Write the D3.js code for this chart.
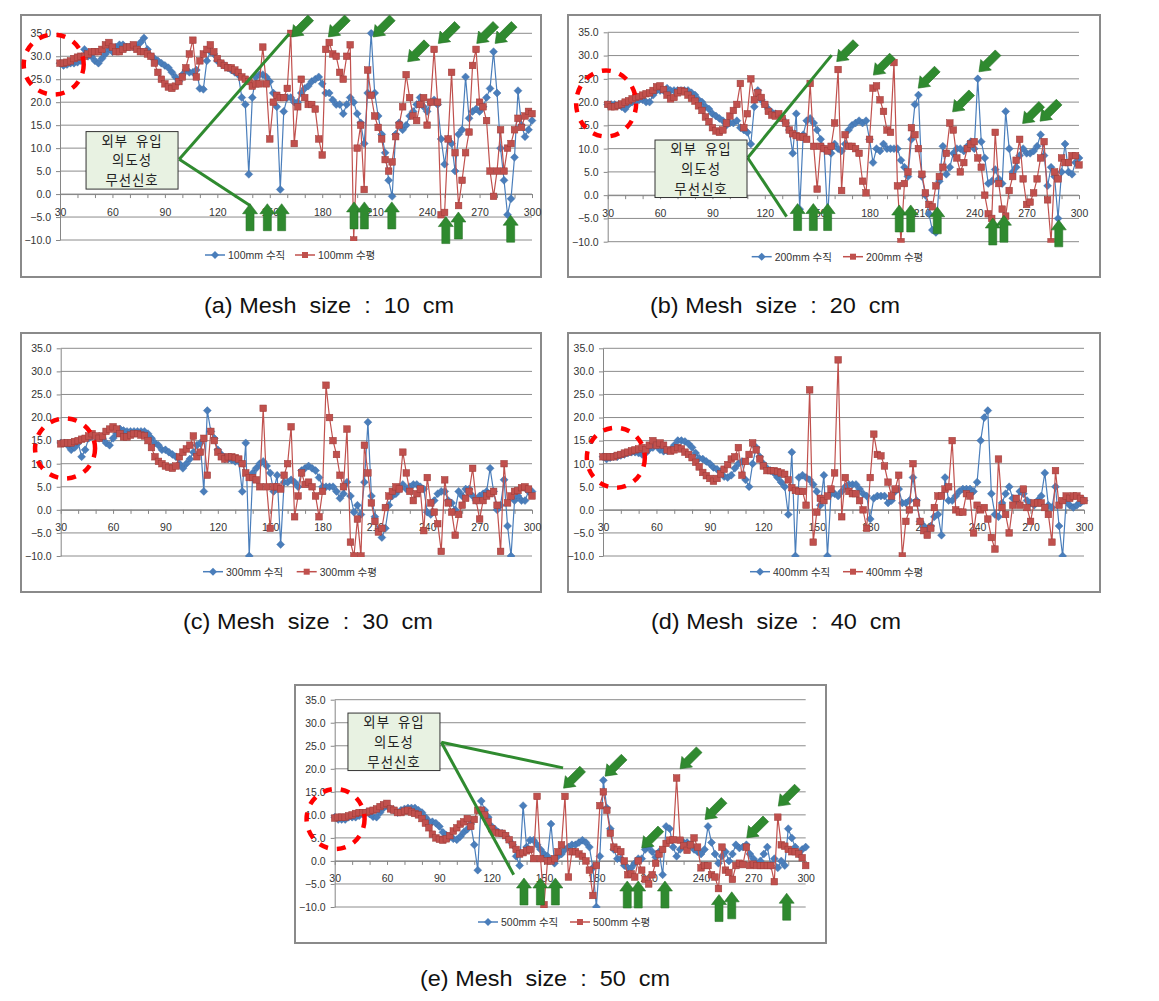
<!DOCTYPE html>
<html><head><meta charset="utf-8">
<script src="https://cdn.jsdelivr.net/npm/d3@7"></script>
<style>body{margin:0;background:#fff}svg{display:block}</style>
</head><body><svg id="c" width="1159" height="1001"></svg>
<script>
// ---------- DATA ----------
const angles = [30,32,34,36,38,40,42,44,46,48,50,52,54,56,58,60,62,64,66,68,70,72,74,76,78,80,82,84,86,88,90,92,94,96,98,100,102,104,106,108,110,112,114,116,118,120,122,124,126,128,130,132,134,136,138,140,142,144,146,148,150,152,154,156,158,160,162,164,166,168,170,172,174,176,178,180,182,184,186,188,190,192,194,196,198,200,202,204,206,208,210,212,214,216,218,220,222,224,226,228,230,232,234,236,238,240,242,244,246,248,250,252,254,256,258,260,262,264,266,268,270,272,274,276,278,280,282,284,286,288,290,292,294,296,298,300];
const xTickVals = [30,40,50,60,70,80,90,100,110,120,130,140,150,160,170,180,190,200,210,220,230,240,250,260,270,280,290,300];
const xLabelVals = [30,60,90,120,150,180,210,240,270,300];
const yTickVals = [-10,-5,0,5,10,15,20,25,30,35];
const meshSizes = [100,200,300,400,500];
const captions = ["(a) Mesh  size  :  10  cm","(b) Mesh  size  :  20  cm","(c) Mesh  size  :  30  cm","(d) Mesh  size  :  40  cm","(e) Mesh  size  :  50  cm"];
const calloutLines = ["외부  유입","의도성","무선신호"];

const a_vert = [28.5,28,28.2,28.5,28.5,28.7,29,31.5,30,30, 29,28.5,29.5,30.5,31.5,31,32,32.5,32.5,32, 32,32,32,33,34,31.5,30,29.5,29,28.5, 28,27.5,26.5,25.5,24.5,26,27,26.5,26.5,27, 23,22.8,29,31,30.5,29,28.5,28,27.5,27, 26.5,26,21,19.5,4.3,21,25.5,26,26,25.5, 24.5,22,19,1,18,21,21,20,20,22, 23,23.5,24.5,25,25.5,24,22,22,20.5,19.5, 19.5,17.5,19.5,21,20,17.5,15.5,11,22,35, 22,17,13,9,3,-0.5,13,15.5,14,15, 17,18,19.5,21,19,18,20,20.5,19.5,12, 6.5,12,11,5,13,14,25.5,16.5,18,18.5, 18,19,21,23,31,22,10,3,-4.5,-1, 8,22.5,15,12.5,14,16];
const a_horz = [28.5,28.5,28.7,29,29.5,29.8,30,30,30.5,31, 31,31,31.5,32.5,33,32,31,31,31.5,32, 32,32.5,31.5,31,31,30.5,30,28.5,26.5,25, 24,23.3,23,23.5,24.5,25.5,27.5,30.5,33.5,25.5, 29,30.5,31.5,32.5,31,29.5,28.5,28,27.5,27.5, 27,26.5,25.5,25,24.5,23.5,24,24,32,24, 12,20,21.5,21,21,23,35,11,19,25, 21,19.5,19.5,18.5,12,8.5,31.5,33,30.5,30, 26.5,25,30,32.5,-10,10,15,1,27,21.5, 17,14.5,12,7.5,5,7,12.5,15,19,26, 21,17,16,19.5,21,15,20,31.5,20,-4.5, -4,12,26.5,9,-2.5,3,9,13.5,28,31.5, 20,19,16,5,-0.5,5,14,5,10,11, 14,16.5,14.5,17,18,17.5];
const b_vert = [19.5,19.5,19.5,19.3,19,18.5,19.5,20,20,20.5, 20.5,20,20,21.5,22.5,22.5,22.5,23,22.5,22.5, 22.5,22.5,22.5,22.5,22,21.5,20.5,20,19,18.5, 17.5,17,16.5,16,15,15.5,15.5,16,14.5,14, 13.5,11,19,22.5,20.5,19.5,18.5,17.8,17.5,17, 16.5,15.5,14,9,17.5,-3,13,16,16.5,15.5, 14,12,10,-5,9,11,10,9.5,11,14, 15,15.5,16,15.5,16,12,7,10,9.5,11, 10,10,10,10,7.5,6,4,12,19.5,21.5, 4,0,-4,-7.5,-8,3,10.5,4.5,6,9, 10,10,9.5,10.5,11.5,10,25,11.5,8,2.5, 3,5.5,3.5,2.5,18,10,5,6,8.5,10, 9,9,9.5,10.5,13,8.5,2,6,4,-5, 5,11,5,4.5,7,8];
const b_horz = [19.5,19,19,19.3,19.6,20,20.3,20.7,21,21.2, 21.5,21.8,22,22.5,23.3,23.5,22.7,21.5,20.7,21, 22,22.5,22.2,21.5,20.8,20.2,19.2,18.2,16.8,15.8, 14.5,13.8,13.5,14,15.5,17,18.2,19.5,24,14.5, 17.5,25,20.5,22,21,19.5,18,17.2,17,17.5, 16.5,15.5,14,13.2,12.8,12.5,12.5,12,24,10.5, 1.3,10.5,10,9.5,10.5,15.5,27,1,13,10.5, 10.5,10,9,3,0.5,12,23,23.5,20.5,18, 14,13.5,28.5,2,-10,2.5,5,14.5,13,10, 4.5,0.5,-2,-2.5,2,4,6,9,15.5,14, 8,5,7,10,11,11.5,8,6,0,-4, -5,13.5,2.5,-3,-4.5,1,4,7.5,12,3.5, -2,-1.5,0.5,3.5,8,11.5,-1,-10,5,3.5, 8,7,7,8.5,8.5,6.5];
const c_vert = [14.5,14.5,14,13,13.5,14.5,11.5,13,15.5,16, 15.8,15.5,15.5,14.5,14,15.5,16.5,17.5,17.2,17, 17,17,17,17,17,16.5,15.5,14.5,14,13, 13,12.5,12,11.5,10,9,10,11,12.5,14, 14.5,4,21.5,17,15.5,13,12,11,11,10.8, 10.5,10.5,4,14.5,-10,8,9,10,10.5,9.5, 8,4,7.5,-7.5,6,6,6.5,6,5,8.5, 9,9.5,9,8.5,7,5,5,5,5,4, 2.5,3.5,6,3,-0.5,1,-1,6,19,3, -1.5,-4.5,-6,-4,1,3,3.5,4.5,5.5,4.5, 5,5.5,5.5,5,4.5,-0.5,-1,2,3.5,4, 4,2,1.5,0,4,3,4.5,4.5,3,2, 3,3.5,4,9,4,0,1,6.5,-3.5,-10, 2,3,2,2,4,4];
const c_horz = [14.3,14.5,14.5,14.5,14.8,15,15.3,15.5,16,16.5, 16,15.5,16,17,17.5,18,17.5,16.5,15.8,15.8, 16.2,16.5,16.5,16.2,16,15,13.5,11.5,10.5,10, 9.5,9.2,9,9.5,11.5,12.5,13.2,14,16,11.5, 12.5,15.5,7.5,17,15,12.5,11.5,11,11.5,11.5, 11.3,11,10,8,7,7,6.5,5,22,5, -4,5,5,4.5,7.5,10,18,-1.5,3,8, 5.5,6,5,3,-1.5,4,27,20,15,12, 7.5,5,17.5,-7,-10,-2,-10,14,8,1.5, -2.5,-4.8,-4,0.5,3,4,5,4.5,12.5,8, 4,2,3.5,4.5,-4.5,7,1.5,-0.5,-3,-9, 6.5,1.5,-0.5,-5.5,-1,1,2.5,4,9,2, -2,2,3,3.5,4,1,-9,10,1.5,3, 4,4.2,4.8,5,4.5,3];
const d_vert = [11.5,11,11.3,11.5,11.5,11.8,12,12.3,12.5,12.5, 12.3,12,12.3,13.2,13.5,14,13,12.7,12.8,13, 14,15,15,14.8,14.3,13.5,12.3,11.2,11,10.5, 10,9.2,8.8,8.3,7.2,7,7.5,9,10,10.5, 6.5,5,10,13.5,11.5,10,9,8.5,8,7, 6,5,-1,12.5,-10,7,7.5,7,6.5,5.5, 4,1,7.5,-10,3.5,3.5,3,4,5,5.5, 5.5,5.5,4.5,3.5,3,-2,2.5,3,3,3, 1.5,2,4,4.5,1.5,1.5,2,7,2,-2.5, -3.5,-4.5,-3.5,-1.5,-1,-5.5,7,2,2,3, 4,4.5,4.5,4.5,4,6,15,20,21.5,3.5, -1,-1.5,1.5,3.5,5,2.5,2,4,3.5,2, 1.5,1,2,3,8,1,0.5,5,-3.5,-10, 2,1,0.5,1,1.5,2];
const d_horz = [11.5,11.5,11.5,11.5,11.8,12,12.3,12.5,12.8,13, 13.2,13.5,13,14,15,14,14.5,14,13,12.7, 13,13.5,13.2,12.5,12,11.3,10.3,9.3,8.1,7.4, 6.8,6.2,6.8,7.8,8.8,9.8,11,11.5,13.5,7.5, 10.5,12,14.5,13,11,9.5,8.5,8.5,8.5,8.3, 8,7.7,6.5,4.8,4.2,4,4,1,26,-7, -0.5,2.5,2,3,4.5,8,32.5,-1.5,7,4, 3.5,3.5,2,0,-4,7,16.4,12,11.7,9.5, 6,3,4.5,7.5,-10,-2.5,0,10,1.5,-2.5, -4.5,-5.5,-4,0.5,3,3,4.5,5,15,0, -0.5,-0.5,3.5,3,-5,1,0,0.5,-2,-6, -8.5,11,0.5,-1,-5,1,2.5,1,4.5,0.5, -2.5,1.5,1.5,1.5,0.5,-1,-7,8.5,1,2, 3,2.5,3,3,2.5,2];
const e_vert = [9.5,9,9,9,9.5,9.5,9.5,9.8,10.2,10.5, 10.2,9.6,9.5,10.5,11.5,12,11.3,11,10.5,11, 11.3,11.5,11.5,11.5,11,10.5,9.5,8.6,8.5,8.2, 7.5,6.2,5.6,5.2,4.8,4.6,5.3,6.2,6.9,8, 3.5,-2,13,11,9.5,7.5,6.8,6.2,6,5.5, 4.5,3.5,1,-1,12,3,4.5,4.5,3.5,2.5, 1.5,1,8,-0.5,1,1.5,2.5,3,3.5,3.5, 4,4.5,4,3,-1.5,-10,1,17.5,11.5,7, 2.5,0.5,0.5,-1,-1.5,-1.5,-0.5,0.5,0.5,2.5, 3,2,0.8,2,-3,7.5,7,3,1,2.5, 4,4,3.5,2.5,2,1.5,2.5,7.5,4,1.5, -0.5,1,2,0,1.5,3.5,2.8,3,3.5,1.5, 0.5,-0.5,0,1.5,3,-1,0.5,-1.5,0,-1, 7,5,3,1.5,2.5,3];
const e_horz = [9.3,9.5,9.5,9.5,9.8,10,10.3,10.5,10.5,10.5, 10.8,11,11.3,11.8,12.2,12.5,11.3,11,10.5,10.5, 10.8,11,10.6,10.3,10,9.2,8.2,7.2,5.8,5, 4.7,4.5,4.8,5.5,6.5,7.2,8,8.5,9.2,7.5, 9,11,11,10,8.5,7,6.2,6,6,5.5, 4.6,3.5,2.5,1.5,1.8,2.2,2.5,0.5,14,0.5, -9.5,0,0,0.5,2,3.5,14,-3.5,2,2, 1.5,1,0,-2,-7.5,-1,12,15,11,6, 3,2.5,2,0,-3,-2.8,-3.5,0,-2,-4, -5,-3,-0.5,1.5,2.5,3.8,4.5,4.6,18,4.5, 3.3,2.3,3.5,5,3,-1.5,-1,-1,-3,-3.5, -6,3,-2,-2.5,-4,-1,-0.5,-0.8,3,-1, -0.7,-1,-1,-1,-1,-1,-4.5,9.5,3.5,3.2, 2.5,2,2,1.5,0.7,-1];

// annotations, in data coordinates (angle, value)
const ellipses = [[26.4,28.2],[29.1,19.7],[32.5,13.3],[37.2,11.3],[30.5,9.1]];
const a_downArrows = [[162.5,34.2],[183.5,34.2],[209.2,34.2],[228.9,28.8],[246.4,32.8],[268.4,32.8],[278.9,32.8]];
const a_upArrows = [[138.7,-2.1],[148.6,-2.1],[156.8,-2.1],[198.2,-1.7],[204.1,-1.7],[219.8,-1.7],[250.7,-4.9],[257.9,-3.9],[287.8,-4.6]];
const b_downArrows = [[161.2,28.7],[182.2,25.8],[207.9,23],[227.6,17.9],[242.7,26.5],[267.7,15.4],[277.7,15.9]];
const b_upArrows = [[138.8,-1.8],[147.8,-1.8],[156,-1.8],[197,-2.1],[203.6,-2.1],[218.8,-2.5],[250.6,-4.9],[257,-4.3],[288.4,-5.3]];
const e_downArrows = [[161.2,15.8],[185,18.4],[228,20],[206,2.8],[242.3,9],[266.2,5],[284.3,11.9]];
const e_upArrows = [[138.5,-3.7],[147.9,-3.7],[156.5,-3.7],[197.7,-4.35],[204,-4.35],[219.3,-4.35],[250.3,-7.3],[257.6,-6.7],[289.1,-7]];
// callout: box corner (angle,value), anchor, two line ends
const a_callout = {corner:[44.9,13.6], anchor:[98.2,7.6], ends:[[161.2,34.9],[138.7,-2.5]]};
const b_callout = {corner:[57.1,11.85], anchor:[110.2,8.05], ends:[[158.3,30.1],[132.5,-4.6]]};
const e_callout = {corner:[37.6,32.1], anchor:[91.1,25.75], ends:[[160.9,20.2],[132.6,-3.0]]};

// ---------- LAYOUT ----------
const panels = [
 {vert:a_vert, horz:a_horz, size:meshSizes[0], cap:captions[0], ell:ellipses[0], down:a_downArrows, up:a_upArrows, callout:a_callout,
  box:[21,15,520,262], xr:[60,532], yr:[33.3,240], leg:{y:255,b:205,r:295}, capPos:[329,305], er:[30,30]},
 {vert:b_vert, horz:b_horz, size:meshSizes[1], cap:captions[1], ell:ellipses[1], down:b_downArrows, up:b_upArrows, callout:b_callout,
  box:[568,15,532,262], xr:[607.7,1079], yr:[32.3,241.7], leg:{y:256.7,b:751.7,r:843}, capPos:[775,305], er:[30,33]},
 {vert:c_vert, horz:c_horz, size:meshSizes[2], cap:captions[2], ell:ellipses[2], down:[], up:[], callout:null,
  box:[21,333,520,259], xr:[60.7,532], yr:[348.3,556], leg:{y:571.7,b:203,r:296.7}, capPos:[308,621], er:[30,30]},
 {vert:d_vert, horz:d_horz, size:meshSizes[3], cap:captions[3], ell:ellipses[3], down:[], up:[], callout:null,
  box:[568,333,532,259], xr:[603,1084], yr:[348.3,556], leg:{y:571.7,b:750,r:843}, capPos:[776,621], er:[29,30]},
 {vert:e_vert, horz:e_horz, size:meshSizes[4], cap:captions[4], ell:ellipses[4], down:e_downArrows, up:e_upArrows, callout:e_callout,
  box:[295,685,531,258], xr:[334.7,805.7], yr:[699.7,907], leg:{y:922,b:478,r:570}, capPos:[545,978], er:[29,30]}
];

const BLUE = "#4a7ebb", BLUE_D = "#3d6aa3", RED = "#c0504d", RED_D = "#9c3a37";
const GREEN = "#2f8a2f", GRID = "#8c8c8c", AX = "#868686", TXT = "#333";
const arrowPath = "M0,0L7.5,10L4,10L4,27L-4,27L-4,10L-7.5,10Z";
const diamond = "M0,-4L4,0L0,4L-4,0Z";
const SQ = 6.6;

const svg = d3.select("#c");
svg.append("rect").attr("width",1159).attr("height",1001).attr("fill","#fff");

panels.forEach((p, pi) => {
  const g = svg.append("g");
  g.append("rect").attr("x",p.box[0]).attr("y",p.box[1]).attr("width",p.box[2]).attr("height",p.box[3])
    .attr("fill","#fff").attr("stroke","#8a8a8a").attr("stroke-width",2);

  const x = d3.scaleLinear().domain([30,300]).range(p.xr);
  const y = d3.scaleLinear().domain([-10,35]).range([p.yr[1], p.yr[0]]);

  // gridlines
  g.append("g").selectAll("line").data(yTickVals).join("line")
    .attr("x1",p.xr[0]).attr("x2",p.xr[1]).attr("y1",d=>y(d)).attr("y2",d=>y(d))
    .attr("stroke",GRID).attr("stroke-width",1);

  // y axis
  const ya = g.append("g").attr("transform",`translate(${p.xr[0]},0)`)
    .call(d3.axisLeft(y).tickValues(yTickVals).tickFormat(d3.format(".1f")).tickSize(4).tickSizeOuter(0).tickPadding(5));
  // x axis at y = 0
  const xa = g.append("g").attr("transform",`translate(0,${y(0)})`)
    .call(d3.axisBottom(x).tickValues(xTickVals).tickFormat(d => xLabelVals.includes(d) ? d : "").tickSize(4).tickSizeOuter(0).tickPadding(10));
  [ya, xa].forEach(a => {
    a.select(".domain").attr("stroke",AX);
    a.selectAll(".tick line").attr("stroke",AX);
    a.selectAll("text").attr("fill",TXT).style("font-family","Liberation Sans, Arial, sans-serif").style("font-size","10.5px");
  });

  // clip
  const cid = "clip"+pi;
  g.append("clipPath").attr("id",cid).append("rect")
    .attr("x",p.xr[0]-5).attr("y",p.yr[0]-4).attr("width",p.xr[1]-p.xr[0]+10).attr("height",p.yr[1]-p.yr[0]+5);
  const plot = g.append("g").attr("clip-path",`url(#${cid})`);

  const line = d3.line().x((d,i)=>x(angles[i])).y(d=>y(d));
  // vertical (blue)
  plot.append("path").datum(p.vert).attr("d",line).attr("fill","none").attr("stroke",BLUE).attr("stroke-width",1.2);
  plot.append("g").selectAll("path").data(p.vert).join("path")
    .attr("d",diamond).attr("transform",(d,i)=>`translate(${x(angles[i])},${y(d)})`)
    .attr("fill",BLUE).attr("stroke",BLUE_D).attr("stroke-width",0.4);
  // horizontal (red)
  plot.append("path").datum(p.horz).attr("d",line).attr("fill","none").attr("stroke",RED).attr("stroke-width",1.2);
  plot.append("g").selectAll("rect").data(p.horz).join("rect")
    .attr("x",(d,i)=>x(angles[i])-SQ/2).attr("y",d=>y(d)-SQ/2).attr("width",SQ).attr("height",SQ)
    .attr("fill",RED).attr("stroke",RED_D).attr("stroke-width",0.5);

  // legend
  const L = p.leg;
  g.append("line").attr("x1",L.b).attr("x2",L.b+20).attr("y1",L.y).attr("y2",L.y).attr("stroke",BLUE).attr("stroke-width",1.5);
  g.append("path").attr("d",diamond).attr("transform",`translate(${L.b+10},${L.y})`).attr("fill",BLUE);
  g.append("text").attr("x",L.b+23).attr("y",L.y+4).text(`${p.size}mm 수직`)
    .attr("fill",TXT).style("font-family","Liberation Sans, Noto Sans CJK KR, sans-serif").style("font-size","10.5px");
  g.append("line").attr("x1",L.r).attr("x2",L.r+20).attr("y1",L.y).attr("y2",L.y).attr("stroke",RED).attr("stroke-width",1.5);
  g.append("rect").attr("x",L.r+7).attr("y",L.y-3).attr("width",6).attr("height",6).attr("fill",RED);
  g.append("text").attr("x",L.r+23).attr("y",L.y+4).text(`${p.size}mm 수평`)
    .attr("fill",TXT).style("font-family","Liberation Sans, Noto Sans CJK KR, sans-serif").style("font-size","10.5px");

  // red dashed ellipse
  g.append("ellipse").attr("cx",x(p.ell[0])).attr("cy",y(p.ell[1])).attr("rx",p.er[0]).attr("ry",p.er[1])
    .attr("fill","none").attr("stroke","#ff0000").attr("stroke-width",4.5).attr("stroke-dasharray","9 9");

  // callout
  if (p.callout) {
    const c = p.callout;
    const ax = x(c.anchor[0]), ay = y(c.anchor[1]);
    c.ends.forEach(e => {
      g.append("line").attr("x1",ax).attr("y1",ay).attr("x2",x(e[0])).attr("y2",y(e[1]))
        .attr("stroke",GREEN).attr("stroke-width",3);
    });
    const bx = x(c.corner[0]), by = y(c.corner[1]);
    g.append("rect").attr("x",bx).attr("y",by).attr("width",92).attr("height",57.5)
      .attr("fill","#e8f2e2").attr("stroke","#333").attr("stroke-width",1);
    calloutLines.forEach((s,i) => {
      g.append("text").attr("x",bx+46).attr("y",by+14.3+i*19.6).attr("text-anchor","middle")
        .style("white-space","pre").style("letter-spacing","1px").attr("fill","#222")
        .style("font-family","Noto Sans CJK KR, sans-serif").style("font-size","13.4px").text(s);
    });
  }
  // arrows
  g.append("g").selectAll("path").data(p.up).join("path").attr("d",arrowPath)
    .attr("transform",d=>`translate(${x(d[0])},${y(d[1])})`).attr("fill",GREEN).attr("stroke","#267326").attr("stroke-width",0.6);
  g.append("g").selectAll("path").data(p.down).join("path").attr("d",arrowPath)
    .attr("transform",d=>`translate(${x(d[0])},${y(d[1])}) rotate(-135)`).attr("fill",GREEN).attr("stroke","#267326").attr("stroke-width",0.6);

  // caption
  svg.append("text").attr("x",p.capPos[0]).attr("y",p.capPos[1]+8).attr("text-anchor","middle")
    .attr("textLength",250).attr("lengthAdjust","spacingAndGlyphs").style("white-space","pre")
    .attr("fill","#111").style("font-family","Liberation Sans Narrow, Liberation Sans, Arial, sans-serif").style("font-size","22px")
    .text(p.cap);
});
</script></body></html>
